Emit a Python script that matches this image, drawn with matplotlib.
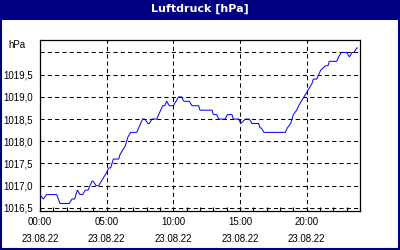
import matplotlib
matplotlib.use("Agg")
import matplotlib.pyplot as plt
from matplotlib.patches import Rectangle
from matplotlib.ticker import MultipleLocator, FuncFormatter

# Luftdruck 23.08.22, Stunden seit Mitternacht / hPa
hours = [0.0, 0.25, 0.5, 1.25, 1.5, 2.2, 2.4, 2.6, 2.8, 3.0, 3.2, 3.4, 3.6, 3.9, 4.0,
         4.2, 4.4, 4.6, 4.8, 5.0, 5.15, 5.3, 5.5, 5.9, 6.0, 6.2, 6.4, 6.6, 6.8, 7.25,
         7.4, 7.55, 7.7, 7.85, 8.1, 8.2, 8.4, 8.75, 8.9, 9.05, 9.2, 9.35, 9.5, 9.7, 10.0,
         10.2, 10.4, 10.6, 10.8, 11.2, 11.4, 11.9, 12.0, 12.9, 13.0, 13.25, 13.4, 13.9,
         14.05, 14.4, 14.5, 14.9, 15.05, 15.4, 15.7, 15.9, 16.4, 16.5, 16.6, 16.8, 18.4,
         18.55, 18.8, 19.0, 19.25, 19.4, 19.6, 19.8, 20.0, 20.2, 20.4, 20.5, 20.75, 20.9,
         21.05, 21.4, 21.6, 21.7, 22.25, 22.4, 22.6, 23.0, 23.2, 23.4, 23.55, 23.75, 23.8]
pressure = [1016.8, 1016.7, 1016.8, 1016.8, 1016.6, 1016.6, 1016.7, 1016.7, 1016.9, 1016.8,
            1016.8, 1016.9, 1016.9, 1017.1, 1017.1, 1017.0, 1017.0, 1017.1, 1017.2, 1017.3,
            1017.4, 1017.4, 1017.6, 1017.6, 1017.7, 1017.8, 1017.9, 1018.1, 1018.2, 1018.2,
            1018.3, 1018.4, 1018.5, 1018.5, 1018.4, 1018.4, 1018.5, 1018.5, 1018.6, 1018.7,
            1018.8, 1018.8, 1018.9, 1018.8, 1018.8, 1018.9, 1019.0, 1019.0, 1018.9, 1018.9,
            1018.8, 1018.8, 1018.7, 1018.7, 1018.6, 1018.6, 1018.5, 1018.5, 1018.6, 1018.6,
            1018.5, 1018.5, 1018.4, 1018.5, 1018.5, 1018.4, 1018.4, 1018.3, 1018.3, 1018.2,
            1018.2, 1018.3, 1018.4, 1018.6, 1018.7, 1018.8, 1018.9, 1019.0, 1019.1, 1019.2,
            1019.3, 1019.4, 1019.4, 1019.5, 1019.6, 1019.7, 1019.7, 1019.8, 1019.8, 1019.9,
            1020.0, 1020.0, 1019.9, 1020.0, 1020.0, 1020.1, 1020.1]

x_ticks = [0, 5, 10, 15, 20]
x_labels = ["00:00\n23.08.22", "05:00\n23.08.22", "10:00\n23.08.22",
            "15:00\n23.08.22", "20:00\n23.08.22"]
y_ticks = [1016.5, 1017.0, 1017.5, 1018.0, 1018.5, 1019.0, 1019.5, 1020.0]

navy = "#000080"
plt.rcParams['font.family'] = ['Liberation Sans', 'DejaVu Sans']

fig = plt.figure(figsize=(4, 2.5), dpi=100)
fig.patch.set_facecolor("white")

# Titelleiste und Rahmen
fig.patches.append(Rectangle((0, 0.92), 1, 0.08, transform=fig.transFigure,
                             facecolor=navy, edgecolor="none", zorder=0))
fig.patches.append(Rectangle((0.002, 0.004), 0.996, 0.994, transform=fig.transFigure,
                             facecolor="none", edgecolor=navy, linewidth=1.5, zorder=1))
fig.text(0.5, 0.963, "Luftdruck [hPa]", color="white", fontsize=8, fontweight="bold",
         ha="center", va="center", family="DejaVu Sans")

ax = fig.add_axes([0.1, 0.156, 0.8, 0.684])
ax.plot(hours, pressure, color="#0000FF", linewidth=0.72, zorder=3)

ax.set_xlim(0, 24)
ax.set_ylim(1016.43, 1020.28)
ax.set_xticks(x_ticks)
ax.set_xticklabels(x_labels, linespacing=1.95)
ax.xaxis.set_minor_locator(MultipleLocator(1))
ax.set_yticks(y_ticks)
ax.yaxis.set_major_formatter(FuncFormatter(
    lambda v, p: "" if v >= 1020 else f"{v:.1f}".replace(".", ",")))

ax.grid(True, color="black", linestyle=(0, (4, 3)), linewidth=0.75)
ax.tick_params(axis="x", which="both", direction="in", length=3, width=0.8,
               labelsize=7, pad=4, colors="black")
ax.tick_params(axis="y", which="both", length=0, labelsize=7, pad=5)
for s in ax.spines.values():
    s.set_color("black")
    s.set_linewidth(0.9)

fig.text(0.043, 0.82, "hPa", fontsize=7, ha="center", va="center")

fig.savefig("out.png", dpi=100)
